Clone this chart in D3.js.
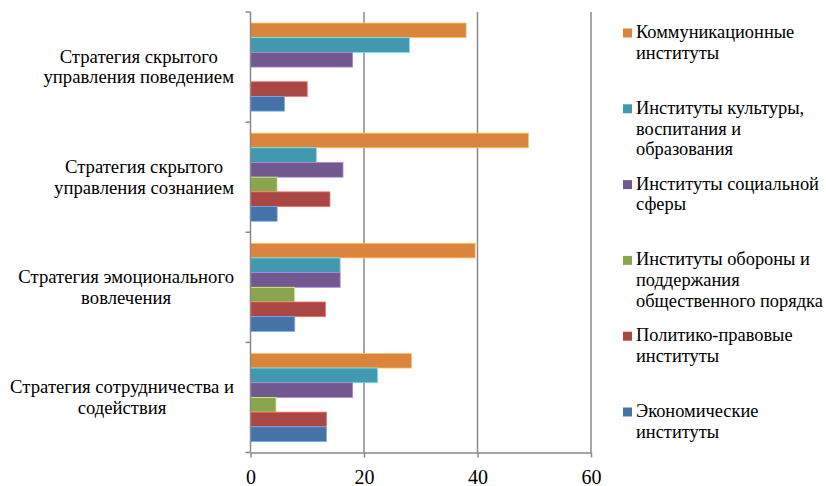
<!DOCTYPE html>
<html lang="ru">
<head>
<meta charset="utf-8">
<script src="https://cdn.jsdelivr.net/npm/d3@7"></script>
<style>
  html, body { margin: 0; padding: 0; background: #ffffff; }
  svg { display: block; }
  #chart text { font-family: 'Liberation Serif', 'Times New Roman', serif; }
</style>
</head>
<body>
<svg id="chart" width="826" height="486" font-family="Liberation Serif"></svg>
<script>
// Strategies, listed top to bottom as drawn
const categories = [
  "Стратегия скрытого управления поведением",
  "Стратегия скрытого управления сознанием",
  "Стратегия эмоционального вовлечения",
  "Стратегия сотрудничества и содействия"
];
const categoryLines = [
  ["Стратегия скрытого", "управления поведением"],
  ["Стратегия скрытого", "управления сознанием"],
  ["Стратегия эмоционального", "вовлечения"],
  ["Стратегия сотрудничества и", "содействия"]
];

// Institution groups, listed top to bottom within each strategy
const seriesNames = [
  "Коммуникационные институты",
  "Институты культуры, воспитания и образования",
  "Институты социальной сферы",
  "Институты обороны и поддержания общественного порядка",
  "Политико-правовые институты",
  "Экономические институты"
];
const seriesLines = [
  ["Коммуникационные", "институты"],
  ["Институты культуры,", "воспитания и", "образования"],
  ["Институты социальной", "сферы"],
  ["Институты обороны и", "поддержания", "общественного порядка"],
  ["Политико-правовые", "институты"],
  ["Экономические", "институты"]
];
const seriesColors = ["#DB843D", "#4198AF", "#71588F", "#89A54E", "#AA4643", "#4572A7"];

// Values per series, one per strategy (same order as categories)
const communication = [38, 49, 39.6, 28.4];
const culture       = [28, 11.6, 15.8, 22.4];
const social        = [18, 16.3, 15.8, 18];
const defence       = [0, 4.7, 7.8, 4.5];
const political     = [10, 14, 13.2, 13.4];
const economic      = [6, 4.7, 7.8, 13.4];
const seriesValues = [communication, culture, social, defence, political, economic];

const xTicks = [0, 20, 40, 60];

const fontFamily = "'Liberation Serif'";
const svg = d3.select("#chart");
const plot = { left: 250.5, right: 591, top: 12, bottom: 452.5 };
const gridColor = "#8a8a8a";

const x = d3.scaleLinear().domain([0, 60]).range([plot.left, plot.right]);
const y = d3.scaleBand().domain(categories).range([plot.top, plot.bottom])
  .paddingInner(0.2).paddingOuter(0.1);
const ySeries = d3.scaleBand().domain(seriesNames).range([0, y.bandwidth()]);

// Vertical gridlines
svg.append("g")
  .selectAll("line")
  .data(xTicks.filter(d => d > 0))
  .join("line")
  .attr("x1", d => x(d)).attr("x2", d => x(d))
  .attr("y1", plot.top).attr("y2", plot.bottom)
  .attr("stroke", gridColor).attr("stroke-width", 1.5);

// Bars
const rows = [];
categories.forEach((c, ci) => {
  seriesNames.forEach((s, si) => {
    rows.push({ cat: c, series: s, value: seriesValues[si][ci], color: seriesColors[si] });
  });
});
svg.append("g")
  .selectAll("rect")
  .data(rows.filter(d => d.value > 0))
  .join("rect")
  .attr("x", x(0))
  .attr("y", d => y(d.cat) + ySeries(d.series))
  .attr("width", d => x(d.value) - x(0))
  .attr("height", ySeries.bandwidth())
  .attr("fill", d => d.color)
  .attr("stroke", d => d3.color(d.color).brighter(1.2))
  .attr("stroke-width", 0.8);

// Bottom axis
const xAxis = d3.axisBottom(x).tickValues(xTicks).tickSize(5).tickSizeOuter(0).tickFormat(d3.format("d"));
const gx = svg.append("g").attr("transform", `translate(0,${plot.bottom})`).call(xAxis);
gx.attr("font-family", "Liberation Serif").attr("font-size", 20);
gx.select(".domain").attr("stroke", gridColor).attr("stroke-width", 1.5);
gx.selectAll(".tick line").attr("stroke", gridColor).attr("stroke-width", 1.5);
gx.selectAll(".tick text")
  .attr("y", 0).attr("dy", null)
  .attr("transform", "translate(0,31)")
  .attr("fill", "#000")
  .style("font-family", fontFamily)
  .style("font-size", "20px");

// Left axis: line with ticks at category boundaries
svg.append("line")
  .attr("x1", plot.left).attr("x2", plot.left)
  .attr("y1", plot.top).attr("y2", plot.bottom)
  .attr("stroke", gridColor).attr("stroke-width", 1.5);
const step = y.step();
const boundaries = d3.range(categories.length + 1).map(i => plot.top + i * step);
svg.append("g")
  .selectAll("line")
  .data(boundaries)
  .join("line")
  .attr("x1", plot.left - 5).attr("x2", plot.left)
  .attr("y1", d => d).attr("y2", d => d)
  .attr("stroke", gridColor).attr("stroke-width", 1.5);

// Category labels: block right-aligned, lines centred within block
const lh = 20.7;
categories.forEach((c, ci) => {
  const lines = categoryLines[ci];
  const g = svg.append("g");
  const texts = g.selectAll("text").data(lines).join("text")
    .style("font-family", fontFamily).style("font-size", "18.7px")
    .attr("fill", "#000")
    .attr("text-anchor", "middle")
    .text(d => d);
  const widths = [];
  texts.each(function () { widths.push(this.getComputedTextLength()); });
  const blockW = d3.max(widths);
  const cx = 234 - blockW / 2;
  const cy = y(c) + y.bandwidth() / 2;
  texts.attr("x", cx)
    .attr("y", (d, i) => cy + (i - (lines.length - 1) / 2) * lh + 6);
});

// Legend
const legend = svg.append("g");
seriesNames.forEach((s, si) => {
  const base = 38 + si * 75.8;
  legend.append("rect")
    .attr("x", 623).attr("y", base - 9.5)
    .attr("width", 9).attr("height", 9)
    .attr("fill", seriesColors[si]);
  legend.append("g").selectAll("text")
    .data(seriesLines[si]).join("text")
    .attr("x", 636)
    .attr("y", (d, i) => base + i * lh)
    .style("font-family", fontFamily).style("font-size", "18.4px")
    .attr("fill", "#000")
    .text(d => d);
});
</script>
</body>
</html>
